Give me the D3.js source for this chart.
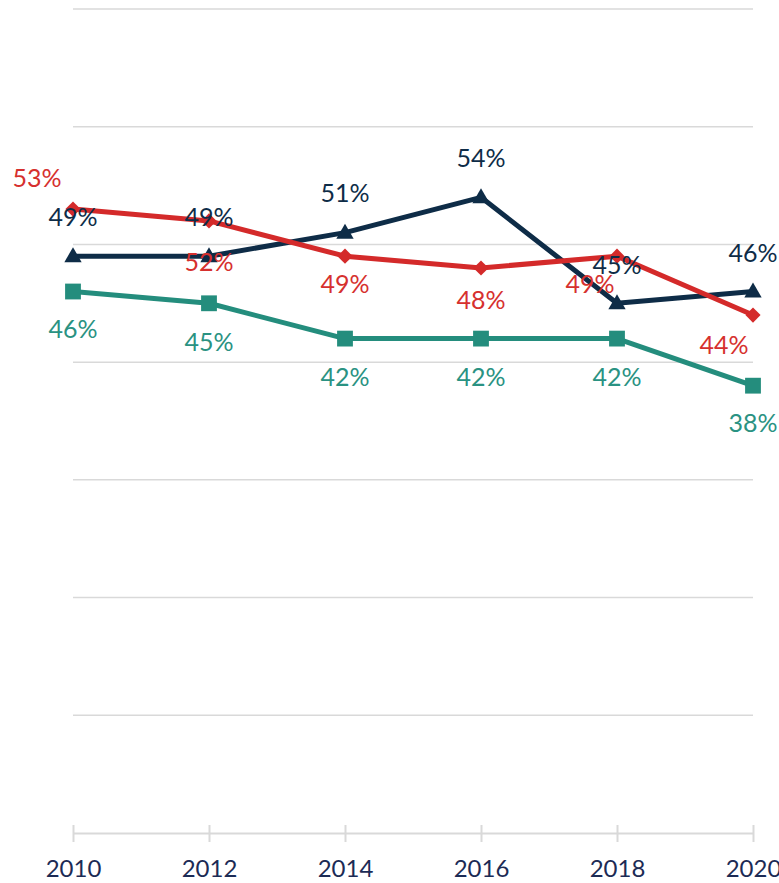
<!DOCTYPE html>
<html><head><meta charset="utf-8">
<script src="https://cdn.jsdelivr.net/npm/d3@7"></script>
<style>html,body{margin:0;padding:0;background:#fff;overflow:hidden}</style>
</head><body>
<script>
const years = [2010, 2012, 2014, 2016, 2018, 2020];
const navyValues = [49, 49, 51, 54, 45, 46];
const redValues = [53, 52, 49, 48, 49, 44];
const tealValues = [46, 45, 42, 42, 42, 38];
const yTicks = [0, 10, 20, 30, 40, 50, 60, 70];

const W = 779, H = 883;
const svg = d3.select("body").append("svg").attr("width", W).attr("height", H);
const x = d3.scalePoint().domain(years).range([73, 753]);
const y = d3.scaleLinear().domain([0, 70]).range([833, 9]);

// gridlines
svg.append("g").selectAll("line").data(yTicks.filter(d => d > 0)).join("line")
  .attr("x1", 73).attr("x2", 753).attr("y1", d => y(d)).attr("y2", d => y(d))
  .attr("stroke", "#d9d9d9").attr("stroke-width", 1.5);

// x axis
const ax = svg.append("g").attr("transform", `translate(0,${y(0)})`)
  .call(d3.axisBottom(x).tickSize(0).tickFormat(d3.format("d")));
ax.select(".domain").attr("stroke", "#d9d9d9").attr("stroke-width", 2);
ax.selectAll(".tick line").attr("y1", -8).attr("y2", 9).attr("stroke", "#d9d9d9").attr("stroke-width", 2);
ax.selectAll(".tick text").attr("y", 36).attr("dy", "0.35em")
  .attr("font-family", "Lato, 'Open Sans', sans-serif").attr("font-size", 24)
  .attr("fill", "#1c2b55");

const series = [
  {name: "navy", values: navyValues, color: "#0e2c47", labelColor: "#0e2c47", marker: "triangle", size: 130,
   dx: [0, 0, 0, 0, 0, 0], dy: [-39, -39, -39, -39, -38, -38]},
  {name: "red", values: redValues, color: "#d42a2a", labelColor: "#d6302e", marker: "diamond", size: 115,
   dx: [-36, 0, 0, 0, -27, -29], dy: [-31, 41, 28, 32, 28, 30]},
  {name: "teal", values: tealValues, color: "#248d7d", labelColor: "#2a9282", marker: "square", size: 250,
   dx: [0, 0, 0, 0, 0, 0], dy: [38, 39, 39, 39, 39, 38]}
];
const symType = {triangle: d3.symbolTriangle, diamond: d3.symbolSquare, square: d3.symbolSquare};

const line = d3.line().x((d, i) => x(years[i])).y(d => y(d));
const drawOrder = [series[2], series[0], series[1]];
drawOrder.forEach(s => {
  svg.append("path").datum(s.values).attr("d", line)
    .attr("fill", "none").attr("stroke", s.color).attr("stroke-width", 5).attr("stroke-linejoin", "round");
  svg.append("g").selectAll("path").data(s.values).join("path")
    .attr("d", d3.symbol().type(symType[s.marker]).size(s.size))
    .attr("transform", (d, i) => `translate(${x(years[i])},${y(d) + (s.marker === "triangle" ? 1 : 0)})${s.marker === "diamond" ? " rotate(45)" : ""}`)
    .attr("fill", s.color);
});
series.forEach(s => {
  svg.append("g").selectAll("text").data(s.values).join("text")
    .attr("x", (d, i) => x(years[i]) + s.dx[i])
    .attr("y", (d, i) => y(d) + s.dy[i])
    .attr("dy", "0.35em").attr("text-anchor", "middle")
    .attr("font-family", "Lato, 'Open Sans', sans-serif").attr("font-size", 25)
    .attr("fill", s.labelColor)
    .text(d => d + "%");
});
</script>
</body></html>
